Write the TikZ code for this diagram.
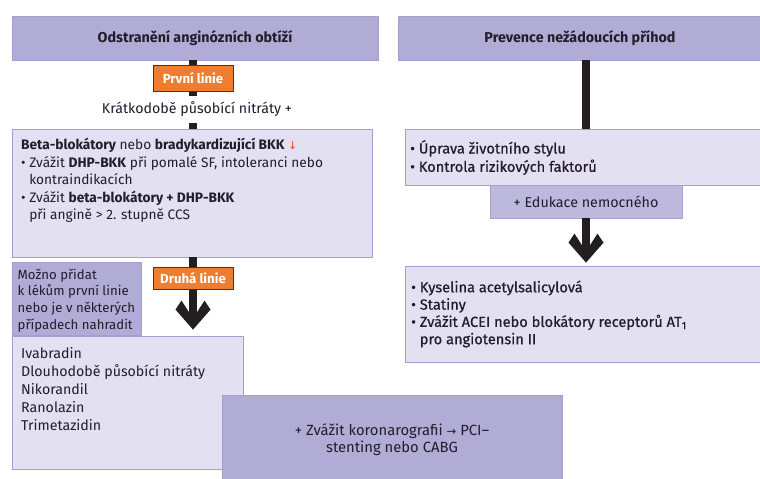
\documentclass[tikz,border=0pt]{standalone}
\usepackage{fontspec}
\usetikzlibrary{calc}
\setmainfont{Fira Sans}
\newfontfamily\symf{DejaVu Sans}
\newfontfamily\semif[FakeBold=0.6]{Fira Sans}
\definecolor{hdrfill}{HTML}{B1ACD5}
\definecolor{edufill}{HTML}{BDB8DD}
\definecolor{litefill}{HTML}{E3E0F1}
\definecolor{boxline}{HTML}{A59FCF}
\definecolor{orangefill}{HTML}{EE7D2F}
\definecolor{orangeline}{HTML}{4E3322}
\definecolor{txt}{HTML}{221C2B}
\definecolor{shaftc}{HTML}{231F20}
\definecolor{downred}{HTML}{D9502A}
\tikzset{
  darkbox/.style={rectangle, fill=hdrfill, draw=boxline, line width=0.8pt, inner sep=0pt, text=txt},
  litebox/.style={rectangle, fill=litefill, draw=boxline, line width=0.8pt, inner sep=0pt},
  linebox/.style={rectangle, fill=orangefill, draw=orangeline, line width=1pt, text=white,
     font=\fontsize{13.2}{14}\selectfont\bfseries, inner sep=0pt, minimum width=80pt},
  hdrtext/.style={font=\fontsize{14.3}{15}\selectfont\bfseries, text=txt},
  bodytext/.style={anchor=north west, inner sep=0pt, align=left, text=txt},
  shaft/.style={draw=shaftc, line width=7.5pt},
}
\newcommand\chevhead[1]{\fill[shaftc, shift={(#1)}] (-3.75,-17) -- (-11.5,-29) -- (-17.5,-20) -- (0,0) -- (17.5,-20) -- (11.5,-29) -- (3.75,-17) -- cycle;}
\begin{document}
\begin{tikzpicture}[x=1pt,y=-1pt]
\useasboundingbox (0,0) rectangle (760,479);
\clip (0,0) rectangle (760,479);
% headers
\node[darkbox, minimum width=366pt, minimum height=44pt, hdrtext] (h1) at (195,38) {Odstranění anginózních obtíží};
\node[darkbox, minimum width=364pt, minimum height=44pt, hdrtext] (h2) at (580,38) {Prevence nežádoucích příhod};
% left column
\node[linebox, minimum height=26pt] (p1) at (193,78) {První linie};
\node[fill=white, inner sep=0pt, minimum height=27pt, text=txt, font=\fontsize{14.2}{15}\selectfont] (kr) at (197,109.5) {Krátkodobě působící nitráty +};
\node[litebox, minimum width=360pt, minimum height=128pt] (beta) at (192,193) {};
\coordinate (betatop) at (p1.south |- beta.north);
\draw[shaft] (p1.north |- h1.south) -- (p1.north);
\draw[shaft] (p1.south) -- (p1.south |- kr.north);
\draw[shaft] (p1.south |- kr.south) -- (betatop);
\node[bodytext, font=\fontsize{13.7}{17.5}\selectfont] (betatxt) at (21,137.5) {\strut\textbf{Beta-blokátory} nebo \textbf{bradykardizující BKK} {\symf\color{downred}\fontsize{11}{12}\selectfont↓}\\
• Zvážit \textbf{DHP-BKK} při pomalé SF, intoleranci nebo\\
\phantom{• }kontraindikacích\\
• Zvážit \textbf{beta-blokátory + DHP-BKK}\\
\phantom{• }při angině > 2. stupně CCS};
\node[darkbox, minimum width=129pt, minimum height=73pt] (mozno) at (76.5,298.5) {};
\node[bodytext, font=\fontsize{13.2}{16.7}\selectfont] (moznotxt) at (17.5,267.3) {\strut Možno přidat\\k lékům první linie\\nebo je v některých\\případech nahradit};
\node[linebox, minimum height=22pt] (p2) at (193,278) {Druhá linie};
\node[litebox, minimum width=231pt, minimum height=133pt] (iva) at (127.5,402.5) {};
\coordinate (lefttip) at (p2.south |- iva.north);
\draw[shaft] (p2.north |- beta.south) -- (p2.north);
\draw[shaft] (p2.south) -- ($(lefttip)+(0,-20)$);
\chevhead{$(lefttip)+(0,-6)$}
\node[bodytext, font=\fontsize{14.2}{18}\selectfont] (ivatxt) at (21,345.4) {\strut Ivabradin\\Dlouhodobě působící nitráty\\Nikorandil\\Ranolazin\\Trimetazidin};
\node[darkbox, minimum width=340pt, minimum height=90pt, align=center, font=\fontsize{14.8}{17}\selectfont] (kor) at (392,440) {+ Zvážit koronarografii {\symf\fontsize{11.5}{12}\selectfont→} PCI–\\stenting nebo CABG};
% right column
\node[litebox, minimum width=360pt, minimum height=56pt] (r1) at (585,157) {};
\node[darkbox, fill=edufill, minimum width=192pt, minimum height=33pt, font=\fontsize{14.3}{15}\selectfont] (edu) at (586,201.5) {+ Edukace nemocného};
\node[litebox, minimum width=360pt, minimum height=96pt] (r2) at (585,314) {};
\coordinate (righttip) at (edu.south |- r2.north);
\draw[shaft] (edu.north |- h2.south) -- (edu.north |- r1.north);
\draw[shaft] (edu.south) -- ($(righttip)+(0,-20)$);
\chevhead{$(righttip)+(0,-3)$}
\node[bodytext, font=\semif\fontsize{14.6}{17}\selectfont] (r1txt) at (410,140) {\strut• Úprava životního stylu\\• Kontrola rizikových faktorů};
\node[bodytext, font=\semif\fontsize{14.6}{17.3}\selectfont] (r2txt) at (411,280) {\strut• Kyselina acetylsalicylová\\• Statiny\\• Zvážit ACEI nebo blokátory receptorů AT\textsubscript{1}\\\phantom{• }pro angiotensin II};
\end{tikzpicture}
\end{document}
